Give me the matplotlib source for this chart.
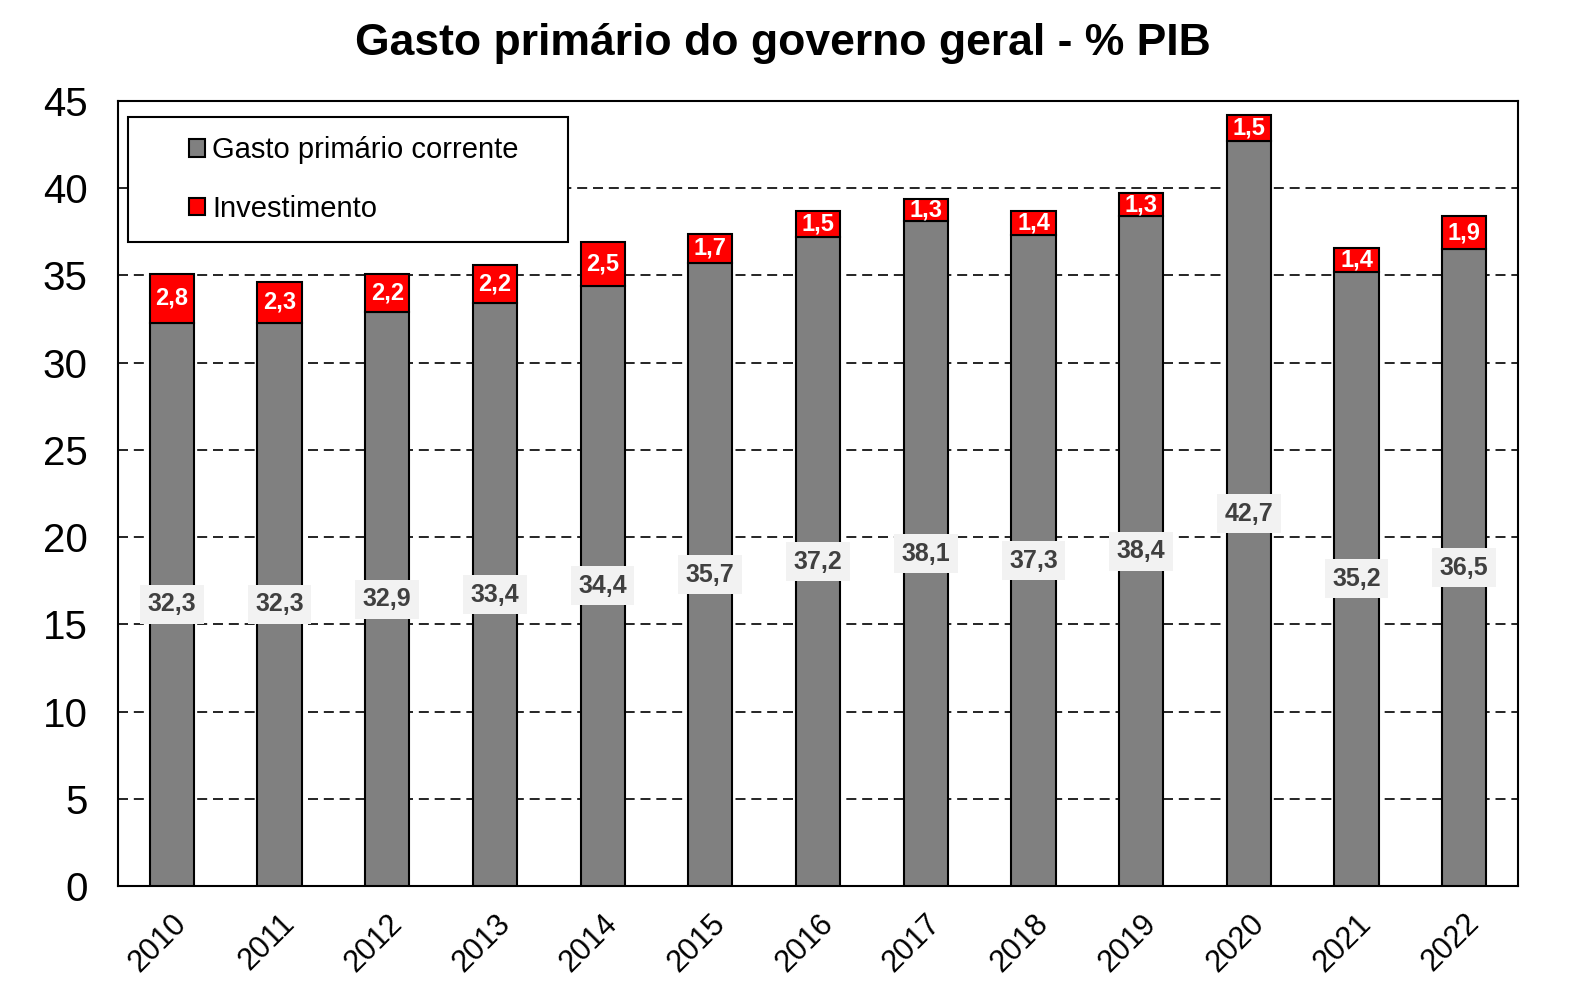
import matplotlib.pyplot as plt
from matplotlib.patches import Rectangle

plt.rcParams['font.family'] = ['Liberation Sans', 'DejaVu Sans']

anos = ['2010', '2011', '2012', '2013', '2014', '2015', '2016',
        '2017', '2018', '2019', '2020', '2021', '2022']
gasto_corrente = [32.3, 32.3, 32.9, 33.4, 34.4, 35.7, 37.2, 38.1, 37.3, 38.4, 42.7, 35.2, 36.5]
investimento = [2.8, 2.3, 2.2, 2.2, 2.5, 1.7, 1.5, 1.3, 1.4, 1.3, 1.5, 1.4, 1.9]
y_ticks = [0, 5, 10, 15, 20, 25, 30, 35, 40, 45]


def fmt(v):
    # virgula decimal
    return f'{v:.1f}'.replace('.', ',')


fig = plt.figure(figsize=(15.82, 9.86), dpi=100)
ax = fig.add_axes([0.0746, 0.1014, 0.885, 0.7962])

x = list(range(len(anos)))
b1 = ax.bar(x, gasto_corrente, width=0.41, color='#808080', edgecolor='black',
            linewidth=1.5, label='Gasto primário corrente', zorder=3)
b2 = ax.bar(x, investimento, width=0.41, bottom=gasto_corrente, color='#ff0000',
            edgecolor='black', linewidth=1.5, label='Investimento', zorder=3)

for xi, g, inv in zip(x, gasto_corrente, investimento):
    ax.text(xi, g / 2, fmt(g), ha='center', va='center', fontsize=18,
            fontweight='bold', color='#404040', zorder=5,
            bbox=dict(boxstyle='square,pad=0.3', facecolor='#f2f2f2', edgecolor='none'))
    ax.text(xi, g + inv / 2, fmt(inv), ha='center', va='center', fontsize=17,
            fontweight='bold', color='white', zorder=5)

ax.set_xlim(-0.5, len(anos) - 0.5)
ax.set_ylim(0, 45)
ax.set_yticks(y_ticks)
ax.yaxis.grid(True, linestyle=(0, (6, 3.5)), color='black', linewidth=1.2, zorder=0)
ax.set_axisbelow(True)
ax.tick_params(axis='y', length=0, pad=22, labelsize=29)
ax.set_xticks(x)
ax.set_xticklabels(anos, rotation=45, ha='right', rotation_mode='anchor', fontsize=22)
ax.tick_params(axis='x', length=0, pad=16)
for s in ax.spines.values():
    s.set_linewidth(1.5)

# caixa da legenda
ax.add_patch(Rectangle((0.0071, 0.8204), 0.3143, 0.1592, transform=ax.transAxes,
                       facecolor='white', edgecolor='black', linewidth=1.5, zorder=6))
leg = ax.legend(handles=[b1, b2], loc='center left', bbox_to_anchor=(0.0507, 0.900),
                frameon=False, fontsize=21, handlelength=0.55, handleheight=0.55,
                handletextpad=0.25, labelspacing=1.05, borderpad=0, borderaxespad=0)
leg.set_zorder(7)

fig.text(0.495, 0.956, 'Gasto primário do governo geral - % PIB', ha='center', va='center',
         fontsize=32, fontweight='bold')

fig.savefig('out.png', dpi=100)
